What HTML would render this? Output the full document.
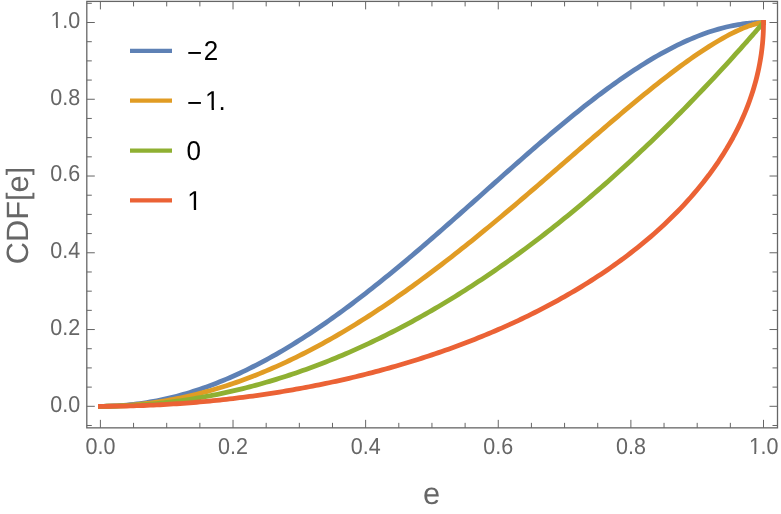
<!DOCTYPE html>
<html lang="en"><head><meta charset="utf-8"><title>CDF[e] plot</title>
<style>
html,body{margin:0;padding:0;background:#fff;}
body{width:781px;height:514px;overflow:hidden;}
svg{display:block;will-change:transform;}
text{font-family:"Liberation Sans",sans-serif;text-rendering:geometricPrecision;}
</style></head><body>
<svg width="781" height="514" viewBox="0 0 781 514">
<rect width="781" height="514" fill="#fff"/>
<!-- curves -->
<g fill="none" stroke-width="4.8" stroke-linejoin="round" stroke-linecap="square">
<polyline stroke="#5E81B5" points="100.40,406.30 103.72,406.28 107.03,406.22 110.35,406.13 113.66,405.99 116.98,405.82 120.29,405.61 123.61,405.36 126.92,405.07 130.24,404.75 133.56,404.38 136.87,403.98 140.19,403.54 143.50,403.06 146.82,402.55 150.13,401.99 153.45,401.40 156.76,400.77 160.08,400.11 163.39,399.40 166.71,398.66 170.03,397.88 173.34,397.07 176.66,396.22 179.97,395.33 183.29,394.40 186.60,393.44 189.92,392.44 193.23,391.40 196.55,390.33 199.87,389.22 203.18,388.08 206.50,386.90 209.81,385.69 213.13,384.44 216.44,383.15 219.76,381.83 223.07,380.48 226.39,379.09 229.70,377.67 233.02,376.21 236.34,374.72 239.65,373.20 242.97,371.64 246.28,370.05 249.60,368.42 252.91,366.77 256.23,365.08 259.54,363.36 262.86,361.61 266.18,359.82 269.49,358.01 272.81,356.16 276.12,354.29 279.44,352.38 282.75,350.45 286.07,348.48 289.38,346.48 292.70,344.46 296.01,342.41 299.33,340.32 302.65,338.22 305.96,336.08 309.28,333.91 312.59,331.72 315.91,329.50 319.22,327.26 322.54,324.99 325.85,322.69 329.17,320.37 332.49,318.03 335.80,315.66 339.12,313.27 342.43,310.85 345.75,308.41 349.06,305.95 352.38,303.46 355.69,300.95 359.01,298.43 362.32,295.88 365.64,293.31 368.96,290.72 372.27,288.11 375.59,285.48 378.90,282.84 382.22,280.17 385.53,277.49 388.85,274.79 392.16,272.08 395.48,269.35 398.80,266.60 402.11,263.84 405.43,261.06 408.74,258.27 412.06,255.47 415.37,252.65 418.69,249.82 422.00,246.98 425.32,244.12 428.63,241.26 431.95,238.39 435.27,235.50 438.58,232.61 441.90,229.71 445.21,226.80 448.53,223.89 451.84,220.96 455.16,218.04 458.47,215.10 461.79,212.16 465.11,209.22 468.42,206.27 471.74,203.33 475.05,200.37 478.37,197.42 481.68,194.47 485.00,191.51 488.31,188.56 491.63,185.60 494.94,182.65 498.26,179.70 501.58,176.76 504.89,173.82 508.21,170.88 511.52,167.95 514.84,165.02 518.15,162.10 521.47,159.19 524.78,156.28 528.10,153.39 531.42,150.50 534.73,147.62 538.05,144.76 541.36,141.91 544.68,139.06 547.99,136.24 551.31,133.42 554.62,130.62 557.94,127.84 561.25,125.08 564.57,122.33 567.89,119.60 571.20,116.88 574.52,114.19 577.83,111.52 581.15,108.87 584.46,106.24 587.78,103.63 591.09,101.05 594.41,98.49 597.73,95.96 601.04,93.46 604.36,90.98 607.67,88.53 610.99,86.11 614.30,83.72 617.62,81.36 620.93,79.03 624.25,76.73 627.56,74.47 630.88,72.24 634.20,70.05 637.51,67.89 640.83,65.77 644.14,63.69 647.46,61.65 650.77,59.65 654.09,57.68 657.40,55.76 660.72,53.89 664.03,52.05 667.35,50.27 670.67,48.52 673.98,46.83 677.30,45.18 680.61,43.58 683.93,42.03 687.24,40.54 690.56,39.09 693.87,37.70 697.19,36.36 703.30,34.03 708.86,32.08 713.89,30.46 718.47,29.11 722.62,27.98 726.39,27.04 729.81,26.26 732.92,25.62 735.74,25.08 738.30,24.63 740.62,24.26 742.73,23.96 744.65,23.71 746.39,23.50 747.96,23.32 749.40,23.18 750.70,23.06 751.88,22.96 752.95,22.88 753.92,22.82 754.81,22.76 755.61,22.71 756.34,22.68 757.00,22.65 757.60,22.62 758.14,22.60 758.63,22.58 759.08,22.57 759.49,22.56 759.86,22.55 760.20,22.54 760.50,22.53 760.78,22.53 761.03,22.52 761.26,22.52 761.46,22.51 761.65,22.51 761.82,22.51 761.98,22.51 762.12,22.51 762.24,22.51 762.36,22.50 762.47,22.50 762.56,22.50 762.65,22.50 762.73,22.50 762.80,22.50 762.86,22.50 762.92,22.50 762.97,22.50 763.02,22.50 763.07,22.50 763.11,22.50 763.14,22.50 763.18,22.50 763.21,22.50 763.23,22.50 763.26,22.50 763.28,22.50 763.30,22.50 763.32,22.50 763.34,22.50 763.35,22.50 763.36,22.50 763.38,22.50 763.39,22.50 763.40,22.50 763.41,22.50 763.42,22.50 763.42,22.50 763.43,22.50 763.44,22.50 763.44,22.50 763.45,22.50 763.45,22.50 763.46,22.50 763.46,22.50 763.46,22.50 763.47,22.50 763.47,22.50 763.47,22.50 763.48,22.50 763.48,22.50 763.48,22.50 763.48,22.50 763.48,22.50 763.49,22.50 763.49,22.50 763.49,22.50 763.49,22.50 763.49,22.50 763.49,22.50 763.49,22.50 763.49,22.50 763.49,22.50 763.49,22.50 763.49,22.50 763.49,22.50 763.50,22.50 763.50,22.50 763.50,22.50 763.50,22.50 763.50,22.50 763.50,22.50 763.50,22.50 763.50,22.50 763.50,22.50 763.50,22.50 763.50,22.50 763.50,22.50 763.50,22.50 763.50,22.50 763.50,22.50 763.50,22.50 763.50,22.50 763.50,22.50 763.50,22.50 763.50,22.50 763.50,22.50 763.50,22.50"/>
<polyline stroke="#E19C24" points="100.40,406.30 103.72,406.29 107.03,406.24 110.35,406.17 113.66,406.07 116.98,405.94 120.29,405.78 123.61,405.59 126.92,405.38 130.24,405.13 133.56,404.86 136.87,404.56 140.19,404.23 143.50,403.87 146.82,403.48 150.13,403.07 153.45,402.62 156.76,402.15 160.08,401.65 163.39,401.12 166.71,400.56 170.03,399.97 173.34,399.36 176.66,398.71 179.97,398.04 183.29,397.34 186.60,396.61 189.92,395.86 193.23,395.07 196.55,394.26 199.87,393.42 203.18,392.55 206.50,391.66 209.81,390.73 213.13,389.78 216.44,388.80 219.76,387.80 223.07,386.77 226.39,385.71 229.70,384.62 233.02,383.50 236.34,382.36 239.65,381.19 242.97,380.00 246.28,378.78 249.60,377.53 252.91,376.25 256.23,374.95 259.54,373.62 262.86,372.27 266.18,370.89 269.49,369.48 272.81,368.05 276.12,366.59 279.44,365.11 282.75,363.60 286.07,362.06 289.38,360.50 292.70,358.92 296.01,357.31 299.33,355.67 302.65,354.01 305.96,352.33 309.28,350.62 312.59,348.88 315.91,347.13 319.22,345.35 322.54,343.54 325.85,341.71 329.17,339.86 332.49,337.98 335.80,336.08 339.12,334.16 342.43,332.22 345.75,330.25 349.06,328.26 352.38,326.25 355.69,324.21 359.01,322.16 362.32,320.08 365.64,317.98 368.96,315.86 372.27,313.71 375.59,311.55 378.90,309.37 382.22,307.16 385.53,304.94 388.85,302.69 392.16,300.43 395.48,298.14 398.80,295.84 402.11,293.52 405.43,291.17 408.74,288.81 412.06,286.43 415.37,284.04 418.69,281.62 422.00,279.19 425.32,276.74 428.63,274.27 431.95,271.79 435.27,269.28 438.58,266.77 441.90,264.23 445.21,261.68 448.53,259.12 451.84,256.54 455.16,253.94 458.47,251.34 461.79,248.71 465.11,246.07 468.42,243.42 471.74,240.76 475.05,238.08 478.37,235.39 481.68,232.69 485.00,229.97 488.31,227.25 491.63,224.51 494.94,221.76 498.26,219.01 501.58,216.24 504.89,213.46 508.21,210.67 511.52,207.88 514.84,205.07 518.15,202.26 521.47,199.44 524.78,196.61 528.10,193.78 531.42,190.94 534.73,188.09 538.05,185.24 541.36,182.38 544.68,179.52 547.99,176.65 551.31,173.78 554.62,170.91 557.94,168.04 561.25,165.16 564.57,162.28 567.89,159.41 571.20,156.53 574.52,153.65 577.83,150.77 581.15,147.90 584.46,145.02 587.78,142.15 591.09,139.29 594.41,136.42 597.73,133.56 601.04,130.71 604.36,127.86 607.67,125.02 610.99,122.19 614.30,119.37 617.62,116.55 620.93,113.75 624.25,110.95 627.56,108.17 630.88,105.40 634.20,102.64 637.51,99.90 640.83,97.18 644.14,94.46 647.46,91.77 650.77,89.10 654.09,86.44 657.40,83.81 660.72,81.19 664.03,78.60 667.35,76.04 670.67,73.50 673.98,70.99 677.30,68.50 680.61,66.05 683.93,63.63 687.24,61.24 690.56,58.88 693.87,56.56 697.19,54.29 703.30,50.19 708.86,46.61 713.89,43.48 718.47,40.74 722.62,38.35 726.39,36.27 729.81,34.46 732.92,32.88 735.74,31.51 738.30,30.31 740.62,29.28 742.73,28.38 744.65,27.59 746.39,26.91 747.96,26.32 749.40,25.81 750.70,25.37 751.88,24.99 752.95,24.65 753.92,24.36 754.81,24.11 755.61,23.90 756.34,23.71 757.00,23.55 757.60,23.41 758.14,23.28 758.63,23.18 759.08,23.09 759.49,23.01 759.86,22.94 760.20,22.88 760.50,22.83 760.78,22.78 761.03,22.75 761.26,22.71 761.46,22.68 761.65,22.66 761.82,22.64 761.98,22.62 762.12,22.60 762.24,22.59 762.36,22.58 762.47,22.57 762.56,22.56 762.65,22.55 762.73,22.54 762.80,22.54 762.86,22.53 762.92,22.53 762.97,22.52 763.02,22.52 763.07,22.52 763.11,22.52 763.14,22.51 763.18,22.51 763.21,22.51 763.23,22.51 763.26,22.51 763.28,22.51 763.30,22.51 763.32,22.50 763.34,22.50 763.35,22.50 763.36,22.50 763.38,22.50 763.39,22.50 763.40,22.50 763.41,22.50 763.42,22.50 763.42,22.50 763.43,22.50 763.44,22.50 763.44,22.50 763.45,22.50 763.45,22.50 763.46,22.50 763.46,22.50 763.46,22.50 763.47,22.50 763.47,22.50 763.47,22.50 763.48,22.50 763.48,22.50 763.48,22.50 763.48,22.50 763.48,22.50 763.49,22.50 763.49,22.50 763.49,22.50 763.49,22.50 763.49,22.50 763.49,22.50 763.49,22.50 763.49,22.50 763.49,22.50 763.49,22.50 763.49,22.50 763.49,22.50 763.50,22.50 763.50,22.50 763.50,22.50 763.50,22.50 763.50,22.50 763.50,22.50 763.50,22.50 763.50,22.50 763.50,22.50 763.50,22.50 763.50,22.50 763.50,22.50 763.50,22.50 763.50,22.50 763.50,22.50 763.50,22.50 763.50,22.50 763.50,22.50 763.50,22.50 763.50,22.50 763.50,22.50 763.50,22.50"/>
<polyline stroke="#8FB032" points="100.40,406.30 103.72,406.29 107.03,406.26 110.35,406.21 113.66,406.15 116.98,406.06 120.29,405.95 123.61,405.83 126.92,405.69 130.24,405.52 133.56,405.34 136.87,405.14 140.19,404.92 143.50,404.68 146.82,404.42 150.13,404.14 153.45,403.84 156.76,403.53 160.08,403.19 163.39,402.84 166.71,402.46 170.03,402.07 173.34,401.66 176.66,401.22 179.97,400.77 183.29,400.30 186.60,399.81 189.92,399.31 193.23,398.78 196.55,398.23 199.87,397.66 203.18,397.08 206.50,396.47 209.81,395.85 213.13,395.21 216.44,394.55 219.76,393.86 223.07,393.16 226.39,392.44 229.70,391.71 233.02,390.95 236.34,390.17 239.65,389.37 242.97,388.56 246.28,387.72 249.60,386.87 252.91,386.00 256.23,385.10 259.54,384.19 262.86,383.26 266.18,382.31 269.49,381.34 272.81,380.36 276.12,379.35 279.44,378.32 282.75,377.28 286.07,376.21 289.38,375.13 292.70,374.02 296.01,372.90 299.33,371.76 302.65,370.60 305.96,369.42 309.28,368.22 312.59,367.00 315.91,365.76 319.22,364.50 322.54,363.23 325.85,361.93 329.17,360.62 332.49,359.28 335.80,357.93 339.12,356.56 342.43,355.17 345.75,353.76 349.06,352.33 352.38,350.88 355.69,349.41 359.01,347.92 362.32,346.42 365.64,344.89 368.96,343.35 372.27,341.78 375.59,340.20 378.90,338.60 382.22,336.98 385.53,335.34 388.85,333.68 392.16,332.00 395.48,330.30 398.80,328.58 402.11,326.84 405.43,325.09 408.74,323.31 412.06,321.52 415.37,319.71 418.69,317.87 422.00,316.02 425.32,314.15 428.63,312.26 431.95,310.35 435.27,308.42 438.58,306.47 441.90,304.51 445.21,302.52 448.53,300.52 451.84,298.49 455.16,296.45 458.47,294.38 461.79,292.30 465.11,290.20 468.42,288.08 471.74,285.94 475.05,283.78 478.37,281.60 481.68,279.41 485.00,277.19 488.31,274.95 491.63,272.70 494.94,270.43 498.26,268.13 501.58,265.82 504.89,263.49 508.21,261.14 511.52,258.77 514.84,256.38 518.15,253.97 521.47,251.54 524.78,249.10 528.10,246.63 531.42,244.14 534.73,241.64 538.05,239.12 541.36,236.57 544.68,234.01 547.99,231.43 551.31,228.83 554.62,226.21 557.94,223.57 561.25,220.92 564.57,218.24 567.89,215.54 571.20,212.83 574.52,210.09 577.83,207.34 581.15,204.57 584.46,201.77 587.78,198.96 591.09,196.13 594.41,193.28 597.73,190.41 601.04,187.52 604.36,184.62 607.67,181.69 610.99,178.74 614.30,175.78 617.62,172.80 620.93,169.79 624.25,166.77 627.56,163.73 630.88,160.67 634.20,157.59 637.51,154.49 640.83,151.37 644.14,148.23 647.46,145.08 650.77,141.90 654.09,138.71 657.40,135.49 660.72,132.26 664.03,129.00 667.35,125.73 670.67,122.44 673.98,119.13 677.30,115.80 680.61,112.45 683.93,109.09 687.24,105.70 690.56,102.29 693.87,98.87 697.19,95.42 703.30,89.02 708.86,83.15 713.89,77.77 718.47,72.86 722.62,68.36 726.39,64.26 729.81,60.51 732.92,57.08 735.74,53.96 738.30,51.12 740.62,48.53 742.73,46.16 744.65,44.01 746.39,42.06 747.96,40.27 749.40,38.65 750.70,37.18 751.88,35.84 752.95,34.62 753.92,33.51 754.81,32.50 755.61,31.58 756.34,30.75 757.00,29.99 757.60,29.30 758.14,28.68 758.63,28.11 759.08,27.60 759.49,27.13 759.86,26.70 760.20,26.32 760.50,25.96 760.78,25.65 761.03,25.36 761.26,25.09 761.46,24.85 761.65,24.64 761.82,24.44 761.98,24.26 762.12,24.10 762.24,23.95 762.36,23.82 762.47,23.70 762.56,23.59 762.65,23.49 762.73,23.40 762.80,23.31 762.86,23.24 762.92,23.17 762.97,23.11 763.02,23.05 763.07,23.00 763.11,22.96 763.14,22.91 763.18,22.88 763.21,22.84 763.23,22.81 763.26,22.78 763.28,22.75 763.30,22.73 763.32,22.71 763.34,22.69 763.35,22.67 763.36,22.66 763.38,22.64 763.39,22.63 763.40,22.62 763.41,22.61 763.42,22.60 763.42,22.59 763.43,22.58 763.44,22.57 763.44,22.57 763.45,22.56 763.45,22.55 763.46,22.55 763.46,22.54 763.46,22.54 763.47,22.54 763.47,22.53 763.47,22.53 763.48,22.53 763.48,22.52 763.48,22.52 763.48,22.52 763.48,22.52 763.49,22.52 763.49,22.52 763.49,22.51 763.49,22.51 763.49,22.51 763.49,22.51 763.49,22.51 763.49,22.51 763.49,22.51 763.49,22.51 763.49,22.51 763.49,22.51 763.50,22.51 763.50,22.50 763.50,22.50 763.50,22.50 763.50,22.50 763.50,22.50 763.50,22.50 763.50,22.50 763.50,22.50 763.50,22.50 763.50,22.50 763.50,22.50 763.50,22.50 763.50,22.50 763.50,22.50 763.50,22.50 763.50,22.50 763.50,22.50 763.50,22.50 763.50,22.50 763.50,22.50 763.50,22.50"/>
<polyline stroke="#EB6235" points="100.40,406.30 103.72,406.30 107.03,406.28 110.35,406.26 113.66,406.22 116.98,406.18 120.29,406.13 123.61,406.06 126.92,405.99 130.24,405.91 133.56,405.82 136.87,405.72 140.19,405.61 143.50,405.49 146.82,405.36 150.13,405.22 153.45,405.07 156.76,404.91 160.08,404.74 163.39,404.56 166.71,404.38 170.03,404.18 173.34,403.97 176.66,403.75 179.97,403.53 183.29,403.29 186.60,403.04 189.92,402.79 193.23,402.52 196.55,402.24 199.87,401.96 203.18,401.66 206.50,401.36 209.81,401.04 213.13,400.71 216.44,400.38 219.76,400.03 223.07,399.68 226.39,399.31 229.70,398.93 233.02,398.55 236.34,398.15 239.65,397.74 242.97,397.32 246.28,396.90 249.60,396.46 252.91,396.01 256.23,395.55 259.54,395.08 262.86,394.60 266.18,394.11 269.49,393.61 272.81,393.10 276.12,392.58 279.44,392.05 282.75,391.50 286.07,390.95 289.38,390.38 292.70,389.81 296.01,389.22 299.33,388.62 302.65,388.01 305.96,387.39 309.28,386.76 312.59,386.12 315.91,385.47 319.22,384.80 322.54,384.12 325.85,383.44 329.17,382.74 332.49,382.02 335.80,381.30 339.12,380.57 342.43,379.82 345.75,379.06 349.06,378.29 352.38,377.51 355.69,376.72 359.01,375.91 362.32,375.09 365.64,374.26 368.96,373.41 372.27,372.56 375.59,371.69 378.90,370.81 382.22,369.91 385.53,369.01 388.85,368.09 392.16,367.15 395.48,366.20 398.80,365.24 402.11,364.27 405.43,363.28 408.74,362.28 412.06,361.27 415.37,360.24 418.69,359.20 422.00,358.14 425.32,357.07 428.63,355.98 431.95,354.88 435.27,353.77 438.58,352.63 441.90,351.49 445.21,350.33 448.53,349.15 451.84,347.96 455.16,346.75 458.47,345.53 461.79,344.29 465.11,343.04 468.42,341.76 471.74,340.48 475.05,339.17 478.37,337.85 481.68,336.51 485.00,335.15 488.31,333.77 491.63,332.38 494.94,330.97 498.26,329.54 501.58,328.09 504.89,326.62 508.21,325.14 511.52,323.63 514.84,322.10 518.15,320.56 521.47,318.99 524.78,317.40 528.10,315.79 531.42,314.16 534.73,312.51 538.05,310.84 541.36,309.14 544.68,307.42 547.99,305.67 551.31,303.91 554.62,302.11 557.94,300.30 561.25,298.46 564.57,296.59 567.89,294.69 571.20,292.77 574.52,290.82 577.83,288.85 581.15,286.84 584.46,284.81 587.78,282.74 591.09,280.65 594.41,278.52 597.73,276.36 601.04,274.17 604.36,271.94 607.67,269.68 610.99,267.38 614.30,265.05 617.62,262.67 620.93,260.26 624.25,257.81 627.56,255.32 630.88,252.78 634.20,250.20 637.51,247.57 640.83,244.90 644.14,242.17 647.46,239.40 650.77,236.57 654.09,233.69 657.40,230.74 660.72,227.74 664.03,224.68 667.35,221.55 670.67,218.35 673.98,215.08 677.30,211.73 680.61,208.31 683.93,204.79 687.24,201.19 690.56,197.50 693.87,193.70 697.19,189.79 703.30,182.28 708.86,175.07 713.89,168.15 718.47,161.52 722.62,155.17 726.39,149.09 729.81,143.27 732.92,137.71 735.74,132.39 738.30,127.30 740.62,122.44 742.73,117.80 744.65,113.37 746.39,109.13 747.96,105.09 749.40,101.23 750.70,97.55 751.88,94.04 752.95,90.69 753.92,87.49 754.81,84.45 755.61,81.54 756.34,78.77 757.00,76.12 757.60,73.60 758.14,71.20 758.63,68.91 759.08,66.72 759.49,64.64 759.86,62.66 760.20,60.77 760.50,58.96 760.78,57.25 761.03,55.61 761.26,54.05 761.46,52.56 761.65,51.14 761.82,49.79 761.98,48.50 762.12,47.28 762.24,46.11 762.36,44.99 762.47,43.93 762.56,42.92 762.65,41.96 762.73,41.04 762.80,40.16 762.86,39.33 762.92,38.54 762.97,37.78 763.02,37.06 763.07,36.37 763.11,35.72 763.14,35.09 763.18,34.50 763.21,33.93 763.23,33.39 763.26,32.88 763.28,32.39 763.30,31.92 763.32,31.48 763.34,31.05 763.35,30.65 763.36,30.26 763.38,29.90 763.39,29.55 763.40,29.21 763.41,28.90 763.42,28.60 763.42,28.31 763.43,28.03 763.44,27.77 763.44,27.52 763.45,27.29 763.45,27.06 763.46,26.84 763.46,26.64 763.46,26.44 763.47,26.26 763.47,26.08 763.47,25.91 763.48,25.75 763.48,25.60 763.48,25.45 763.48,25.31 763.48,25.18 763.49,25.05 763.49,24.93 763.49,24.82 763.49,24.71 763.49,24.60 763.49,24.50 763.49,24.41 763.49,24.32 763.49,24.23 763.49,24.15 763.49,24.07 763.49,24.00 763.50,23.93 763.50,23.86 763.50,23.80 763.50,23.74 763.50,23.68 763.50,23.62 763.50,23.57 763.50,23.52 763.50,23.47 763.50,23.42 763.50,23.38 763.50,23.34 763.50,23.30 763.50,23.26 763.50,23.23 763.50,23.19 763.50,23.16 763.50,23.13 763.50,23.10 763.50,23.07 763.50,23.04 763.50,22.50"/>
</g>
<!-- frame and ticks -->
<g stroke="#666666" stroke-width="1" fill="none">
<rect x="86.80" y="1.40" width="690.70" height="426.45" stroke-width="1.3"/>
<path d="M100.40 427.85v-8.00M100.40 1.40v8.00M133.56 427.85v-5.00M133.56 1.40v5.00M166.71 427.85v-5.00M166.71 1.40v5.00M199.87 427.85v-5.00M199.87 1.40v5.00M233.02 427.85v-8.00M233.02 1.40v8.00M266.18 427.85v-5.00M266.18 1.40v5.00M299.33 427.85v-5.00M299.33 1.40v5.00M332.49 427.85v-5.00M332.49 1.40v5.00M365.64 427.85v-8.00M365.64 1.40v8.00M398.80 427.85v-5.00M398.80 1.40v5.00M431.95 427.85v-5.00M431.95 1.40v5.00M465.11 427.85v-5.00M465.11 1.40v5.00M498.26 427.85v-8.00M498.26 1.40v8.00M531.42 427.85v-5.00M531.42 1.40v5.00M564.57 427.85v-5.00M564.57 1.40v5.00M597.73 427.85v-5.00M597.73 1.40v5.00M630.88 427.85v-8.00M630.88 1.40v8.00M664.04 427.85v-5.00M664.04 1.40v5.00M697.19 427.85v-5.00M697.19 1.40v5.00M730.35 427.85v-5.00M730.35 1.40v5.00M763.50 427.85v-8.00M763.50 1.40v8.00M86.80 425.49h5.00M777.50 425.49h-5.00M86.80 406.30h8.00M777.50 406.30h-8.00M86.80 387.11h5.00M777.50 387.11h-5.00M86.80 367.92h5.00M777.50 367.92h-5.00M86.80 348.73h5.00M777.50 348.73h-5.00M86.80 329.54h8.00M777.50 329.54h-8.00M86.80 310.35h5.00M777.50 310.35h-5.00M86.80 291.16h5.00M777.50 291.16h-5.00M86.80 271.97h5.00M777.50 271.97h-5.00M86.80 252.78h8.00M777.50 252.78h-8.00M86.80 233.59h5.00M777.50 233.59h-5.00M86.80 214.40h5.00M777.50 214.40h-5.00M86.80 195.21h5.00M777.50 195.21h-5.00M86.80 176.02h8.00M777.50 176.02h-8.00M86.80 156.83h5.00M777.50 156.83h-5.00M86.80 137.64h5.00M777.50 137.64h-5.00M86.80 118.45h5.00M777.50 118.45h-5.00M86.80 99.26h8.00M777.50 99.26h-8.00M86.80 80.07h5.00M777.50 80.07h-5.00M86.80 60.88h5.00M777.50 60.88h-5.00M86.80 41.69h5.00M777.50 41.69h-5.00M86.80 22.50h8.00M777.50 22.50h-8.00M86.80 3.31h5.00M777.50 3.31h-5.00"/>
</g>
<!-- tick labels -->
<g fill="#666666" font-size="23.10px" transform="scale(0.9308 1)">
<text x="107.87" y="454.00" text-anchor="middle">0.0</text>
<text x="250.36" y="454.00" text-anchor="middle">0.2</text>
<text x="392.84" y="454.00" text-anchor="middle">0.4</text>
<text x="535.33" y="454.00" text-anchor="middle">0.6</text>
<text x="677.82" y="454.00" text-anchor="middle">0.8</text>
<text x="804.57" y="454.00">1<tspan dx="-0.32">.0</tspan></text>
<text x="86.17" y="412.00" text-anchor="end">0.0</text>
<text x="86.17" y="335.00" text-anchor="end">0.2</text>
<text x="86.17" y="258.00" text-anchor="end">0.4</text>
<text x="86.17" y="181.00" text-anchor="end">0.6</text>
<text x="86.17" y="105.00" text-anchor="end">0.8</text>
<text x="54.38" y="28.00">1<tspan dx="-0.32">.0</tspan></text>
</g>
<!-- axis labels -->
<g fill="#666666" font-size="30.8px">
<text x="431.50" y="504.00" text-anchor="middle">e</text>
<text transform="translate(28.00 215.50) rotate(-90)" text-anchor="middle">CDF[e]</text>
</g>
<!-- legend -->
<g stroke-width="4.3" fill="none">
<path d="M130.00 50.85H172.00" stroke="#5E81B5"/>
<path d="M130.00 100.55H172.00" stroke="#E19C24"/>
<path d="M130.00 150.70H172.00" stroke="#8FB032"/>
<path d="M130.00 200.35H172.00" stroke="#EB6235"/>
</g>
<g fill="#000" font-size="27.17px" transform="scale(0.9569 1)">
<text x="195.41" y="60.00"><tspan dy="2.00">−</tspan><tspan dx="1.57" dy="-2.00">2</tspan></text>
<text x="195.41" y="110.00"><tspan dy="2.00">−</tspan><tspan dx="3.03" dy="-2.00">1</tspan><tspan dx="-0.94">.</tspan></text>
<text x="194.79" y="160.00">0</text>
<text x="195.73" y="210.00">1</text>
</g>
<g fill="#fff">
<rect x="749.49" y="452.00" width="4.77" height="3.00"/><rect x="756.16" y="452.00" width="4.60" height="3.00"/>
<rect x="51.25" y="26.00" width="4.77" height="3.00"/><rect x="57.92" y="26.00" width="4.60" height="3.00"/>
<rect x="206.06" y="108.00" width="5.56" height="3.00"/><rect x="213.92" y="108.00" width="5.35" height="3.00"/>
<rect x="188.28" y="208.00" width="5.56" height="3.00"/><rect x="196.14" y="208.00" width="5.35" height="3.00"/>
</g>
</svg>
</body></html>
